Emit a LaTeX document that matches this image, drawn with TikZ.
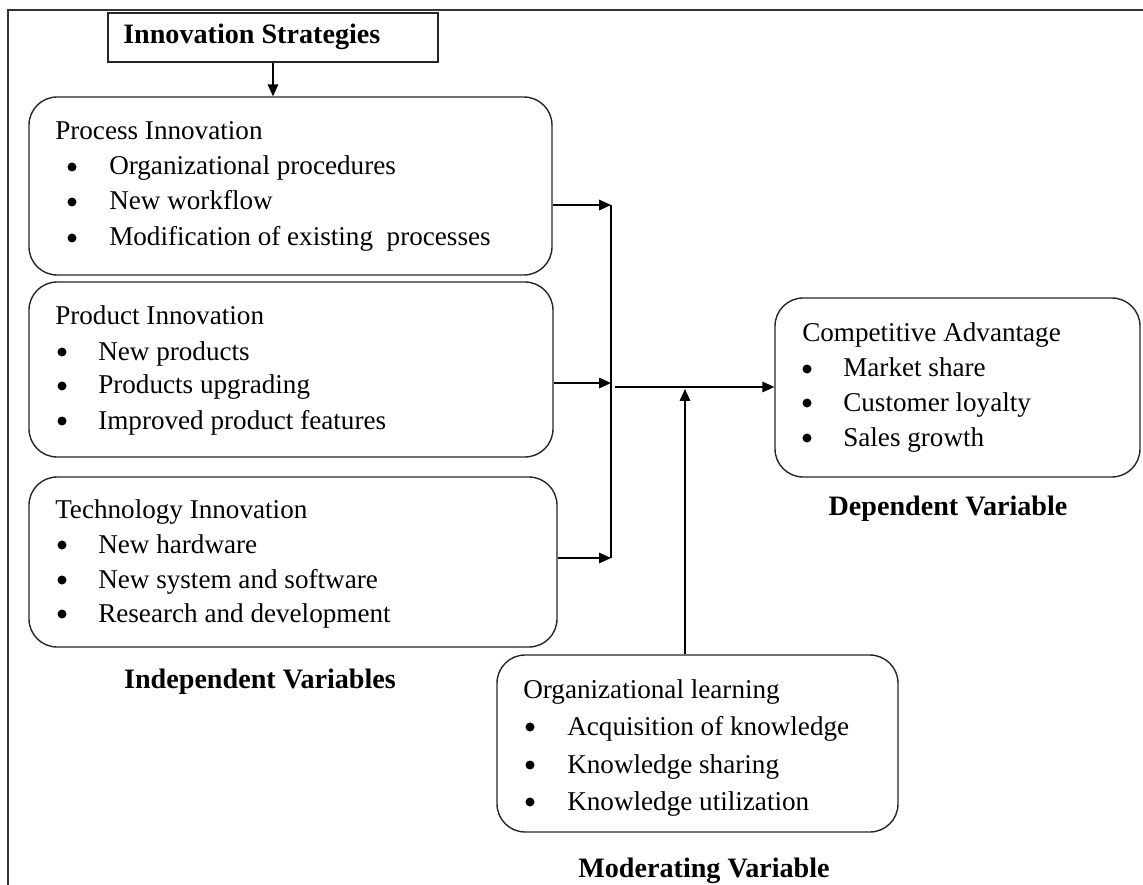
\documentclass[tikz,border=0pt]{standalone}
\usepackage{fontspec}
\setmainfont{Liberation Serif}
\usetikzlibrary{arrows.meta,fit}
\newcommand{\bitem}[5]{%
  \node[bul] (#1b) at (#2,#4-8) {};
  \node[txt] (#1) at (#3,#4) {#5};}
\begin{document}
\begin{tikzpicture}[x=0.025cm,y=-0.025cm,
  txt/.style={anchor=base west,inner sep=0pt,font=\fontsize{19.3}{22}\selectfont},
  bul/.style={circle,fill=black,inner sep=0pt,minimum size=6.4pt},
  lbl/.style={anchor=base,inner sep=0pt,font=\fontsize{20}{22}\selectfont\bfseries},
  rbox/.style={draw=black!85,line width=1pt,rounded corners=20pt,inner sep=0pt},
  sbox/.style={draw=black!85,line width=1pt,inner sep=0pt},
  arr/.style={line width=1pt,-{Triangle[length=8.5pt,width=7.5pt]}},
  ln/.style={line width=1pt}]
\useasboundingbox (0,0) rectangle (1143,885);
% outer frame
\draw[line width=1.4pt,black!80] (8,885) -- (8,10) -- (1143,10);
% boxes
\node[sbox,fit={(108,13) (438,62)}] (title) {};
\node[rbox,fit={(29,97) (552,275)}] (proc) {};
\node[rbox,fit={(29,282) (553,457)}] (prod) {};
\node[rbox,fit={(29,477) (557,647)}] (tech) {};
\node[rbox,fit={(775,298) (1140,477)}] (comp) {};
\node[rbox,fit={(497,655) (898,832)}] (org) {};
% title text
\node[anchor=base west,inner sep=0pt,font=\fontsize{20}{22}\selectfont\bfseries] (ttxt) at (123,44) {Innovation Strategies};
% process
\node[txt] (ph) at (55,140) {Process Innovation};
\bitem{p1}{72}{109}{175}{Organizational procedures}
\bitem{p2}{72}{109}{210}{New workflow}
\bitem{p3}{72}{109}{246}{Modification of existing\ \ processes}
% product
\node[txt] (dh) at (55,325) {Product Innovation};
\bitem{d1}{62}{98}{360}{New products}
\bitem{d2}{62}{98}{394}{Products upgrading}
\bitem{d3}{62}{98}{429}{Improved product features}
% technology
\node[txt] (th) at (55,518) {Technology Innovation};
\bitem{t1}{62}{98}{553}{New hardware}
\bitem{t2}{62}{98}{588}{New system and software}
\bitem{t3}{62}{98}{622}{Research and development}
% competitive
\node[txt] (ch) at (802,342) {Competitive Advantage};
\bitem{c1}{807}{843}{377}{Market share}
\bitem{c2}{807}{843}{411}{Customer loyalty}
\bitem{c3}{807}{843}{446}{Sales growth}
% organizational learning
\node[txt] (oh) at (523,698) {Organizational learning};
\bitem{o1}{530}{567}{735}{Acquisition of knowledge}
\bitem{o2}{530}{567}{773}{Knowledge sharing}
\bitem{o3}{530}{567}{810}{Knowledge utilization}
% labels
\node[lbl] (lind) at (260,688) {Independent Variables};
\node[lbl] (ldep) at (948,515) {Dependent Variable};
\node[lbl] (lmod) at (704,877) {Moderating Variable};
% connectors
\draw[arr] (title.south) -- (title.south |- proc.north);
\coordinate (b1) at (611,205);
\coordinate (b2) at (611,383);
\coordinate (b3) at (611,558);
\draw[ln] (b1) -- (b3);
\draw[arr] (proc.east |- b1) -- (b1);
\draw[arr] (prod.east |- b2) -- (b2);
\draw[arr] (tech.east |- b3) -- (b3);
\coordinate (m) at (615,387);
\draw[arr] (m) -- (comp.west |- m);
\coordinate (mt) at (685,389);
\draw[arr] (org.north -| mt) -- (mt);
\end{tikzpicture}
\end{document}
